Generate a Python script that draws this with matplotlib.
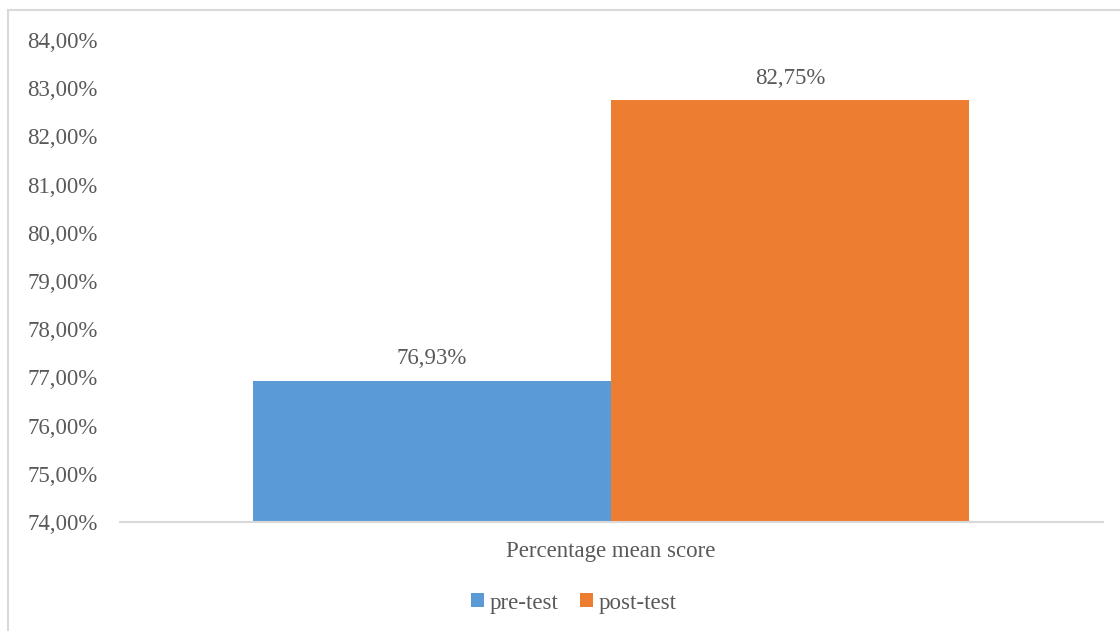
import matplotlib
matplotlib.use('agg')
import matplotlib.pyplot as plt
from matplotlib.patches import Patch
from matplotlib.lines import Line2D
from matplotlib.ticker import FuncFormatter, MultipleLocator

series = ["pre-test", "post-test"]
values = [76.93, 82.75]
colors = ["#5B9BD5", "#ED7D31"]
category = "Percentage mean score"

plt.rcParams['font.family'] = ['Liberation Serif', 'DejaVu Serif']
textcol = "#595959"
linecol = "#D9D9D9"

W, H = 1120, 631
fig = plt.figure(figsize=[W/100, H/100], dpi=100)
ax = fig.add_axes([120/W, (H-522)/H, (1103-120)/W, (522-40)/H])

xs = [0, 1]
bars = ax.bar(xs, [v-74 for v in values], bottom=74, width=1.0, color=colors)
for x, v in zip(xs, values):
    # data label sitting a little above the bar top
    ax.text(x, v + 0.24, f"{v:.2f}%".replace(".", ","), ha='center', va='bottom',
            fontsize=16.5, color=textcol)

ax.set_ylim(74, 84)
ax.set_xlim(-0.8715, 1.874)
ax.yaxis.set_major_locator(MultipleLocator(1))
ax.yaxis.set_major_formatter(FuncFormatter(lambda v, p: f"{v:.2f}%".replace(".", ",")))
ax.tick_params(axis='y', length=0, pad=16, labelsize=16.5, labelcolor=textcol)
ax.set_xticks([0.5])
ax.set_xticklabels([category])
ax.tick_params(axis='x', length=0, pad=14, labelsize=16.5, labelcolor=textcol)

for s in ['top', 'right', 'left']:
    ax.spines[s].set_visible(False)
ax.spines['bottom'].set_color(linecol)
ax.spines['bottom'].set_linewidth(1.5)

handles = [Patch(facecolor=c, edgecolor='none', label=s) for s, c in zip(series, colors)]
fig.legend(handles=handles, loc='center', bbox_to_anchor=(574/W, (H-603)/H),
           ncol=2, frameon=False, fontsize=16.5, labelcolor=textcol,
           handlelength=0.55, handleheight=0.55, handletextpad=0.25,
           columnspacing=0.95, borderaxespad=0, borderpad=0)

# chart area border (top and left visible)
fig.add_artist(Line2D([8/W, 1], [1-10/H, 1-10/H], color=linecol, lw=1.5, transform=fig.transFigure))
fig.add_artist(Line2D([8/W, 8/W], [0, 1-10/H], color=linecol, lw=1.5, transform=fig.transFigure))

plt.savefig("out.png")
plt.close()
